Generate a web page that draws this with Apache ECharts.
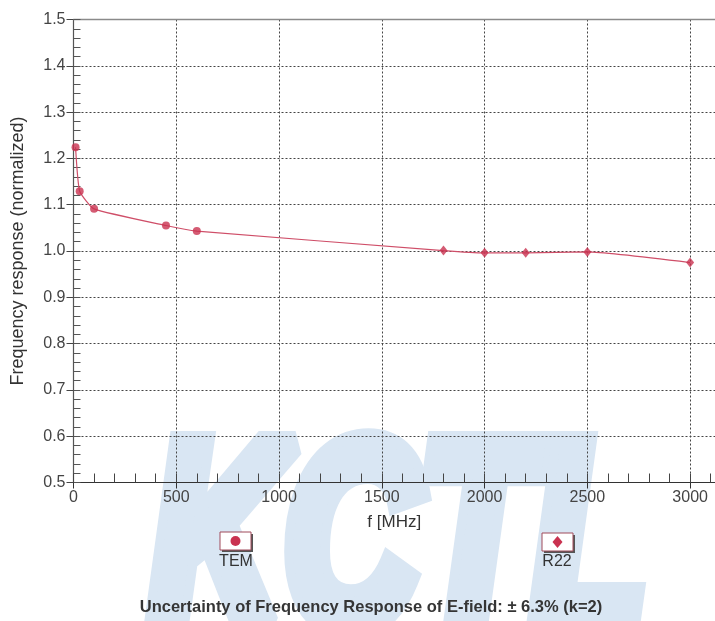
<!DOCTYPE html>
<html>
<head>
<meta charset="utf-8">
<script src="https://cdn.jsdelivr.net/npm/echarts@6/dist/echarts.min.js"></script>
<style>
html,body{margin:0;padding:0;background:#fff;}
#c{width:715px;height:621px;}
</style>
</head>
<body>
<div id="c"></div>
<script>
// Data
const freqTEM = [10, 30, 100, 450, 600];
const respTEM = [1.224, 1.129, 1.091, 1.055, 1.043];
const freqR22 = [1800, 2000, 2200, 2500, 3000];
const respR22 = [1.001, 0.996, 0.996, 0.998, 0.975];
const xTickLabels = ['0', '500', '1000', '1500', '2000', '2500', '3000'];
const yTickLabels = ['0.5', '0.6', '0.7', '0.8', '0.9', '1.0', '1.1', '1.2', '1.3', '1.4', '1.5'];
const legendNames = ['TEM', 'R22'];
const titleText = 'Uncertainty of Frequency Response of E-field: \u00b1 6.3% (k=2)';
const watermark = 'KCTL';

const pairs = (xs, ys) => xs.map((x, i) => [x, ys[i]]);
const allPts = pairs(freqTEM, respTEM).concat(pairs(freqR22, respR22));

const FONT = '"Liberation Sans", Arial, sans-serif';
const RED = '#c93250';
const LINE = '#cf4e68';
const WM = '#d9e6f3';

const chart = echarts.init(document.getElementById('c'), null, {renderer: 'canvas'});

const xMax = 3121;

const option = {
  animation: false,
  backgroundColor: '#fff',
  grid: {left: 73.5, top: 19.5, right: 0, bottom: 138.5, show: false},
  graphic: [
    {
      type: 'text', z: -10, silent: true,
      x: 150, y: 552, scaleX: 0.71,
      style: {text: watermark, fontFamily: 'Liberation Sans', fontWeight: 'bold', fontStyle: 'italic', fontSize: 262,
              fill: WM, stroke: WM, lineWidth: 26, lineJoin: 'round', verticalAlign: 'middle', align: 'left'}
    },
    // legend: TEM
    {type: 'rect', z: 5, shape: {x: 222, y: 534, width: 31, height: 18}, style: {fill: '#555', stroke: null}},
    {type: 'rect', z: 6, shape: {x: 220, y: 532, width: 31, height: 18}, style: {fill: '#fff', stroke: '#a04a5a', lineWidth: 1}},
    {type: 'circle', z: 7, shape: {cx: 235.5, cy: 541, r: 5}, style: {fill: RED}},
    {type: 'text', z: 7, x: 236, y: 562, style: {text: legendNames[0], fontFamily: 'Liberation Sans', fontSize: 16, fill: '#333', align: 'center', verticalAlign: 'middle'}},
    // legend: R22
    {type: 'rect', z: 5, shape: {x: 544, y: 535, width: 31, height: 18}, style: {fill: '#555', stroke: null}},
    {type: 'rect', z: 6, shape: {x: 542, y: 533, width: 31, height: 18}, style: {fill: '#fff', stroke: '#a04a5a', lineWidth: 1}},
    {type: 'polygon', z: 7, shape: {points: [[557.5, 536], [562.5, 542], [557.5, 548], [552.5, 542]]}, style: {fill: RED}},
    {type: 'text', z: 7, x: 557, y: 562, style: {text: legendNames[1], fontFamily: 'Liberation Sans', fontSize: 16, fill: '#333', align: 'center', verticalAlign: 'middle'}},
    // caption
    {type: 'text', z: 7, x: 371, y: 607, style: {text: titleText, fontFamily: 'Liberation Sans', fontWeight: 'bold', fontSize: 16.5, fill: '#353535', align: 'center', verticalAlign: 'middle'}}
  ],
  xAxis: [
    {
      type: 'value', min: 0, max: xMax, interval: 500,
      name: 'f [MHz]', nameLocation: 'middle', nameGap: 31,
      nameTextStyle: {fontFamily: FONT, fontSize: 17, color: '#333'},
      axisLine: {show: true, onZero: false, lineStyle: {color: '#333', width: 1.2}},
      axisTick: {show: true, inside: false, length: 6, lineStyle: {color: '#333'}},
      axisLabel: {
        fontFamily: FONT, fontSize: 16, color: '#444', margin: 7,
        showMaxLabel: false,
        formatter: v => (v % 500 === 0 ? xTickLabels[v / 500] : '')
      },
      splitLine: {show: true, showMaxLine: false, lineStyle: {color: '#444', width: 1, type: [2, 2]}}
    },
    {
      type: 'value', min: 0, max: xMax, interval: 100, position: 'bottom',
      axisLine: {show: false, onZero: false},
      axisTick: {show: true, inside: true, length: 9, lineStyle: {color: '#444'}},
      axisLabel: {show: false},
      splitLine: {show: false}
    },
    {
      type: 'value', min: 0, max: xMax, position: 'top',
      axisLine: {show: true, onZero: false, lineStyle: {color: '#8a8a8a', width: 1.4}},
      axisTick: {show: false}, axisLabel: {show: false}, splitLine: {show: false}
    }
  ],
  yAxis: [
    {
      type: 'value', min: 0.5, max: 1.5, interval: 0.1,
      name: 'Frequency response (normalized)', nameLocation: 'middle', nameGap: 46,
      nameTextStyle: {fontFamily: FONT, fontSize: 18, color: '#333'},
      axisLine: {show: true, onZero: false, lineStyle: {color: '#555', width: 1.2}},
      axisTick: {show: true, inside: false, length: 7, lineStyle: {color: '#444'}},
      axisLabel: {
        fontFamily: FONT, fontSize: 16, color: '#444', margin: 8,
        formatter: v => yTickLabels[Math.round((v - 0.5) * 10)]
      },
      splitLine: {show: true, lineStyle: {color: '#444', width: 1, type: [2, 2]}}
    },
    {
      type: 'value', min: 0.5, max: 1.5, interval: 0.02, position: 'left',
      axisLine: {show: false, onZero: false},
      axisTick: {show: true, inside: true, length: 7, lineStyle: {color: '#555'}},
      axisLabel: {show: false},
      splitLine: {show: false}
    }
  ],
  series: [
    {
      name: 'curve', type: 'line', data: allPts, showSymbol: false,
      smooth: 0.15,
      lineStyle: {color: LINE, width: 1.2}, z: 3, silent: true
    },
    {
      name: legendNames[0], type: 'scatter', data: pairs(freqTEM, respTEM),
      symbol: 'circle', symbolSize: 8, itemStyle: {color: RED}, z: 4
    },
    {
      name: legendNames[1], type: 'scatter', data: pairs(freqR22, respR22),
      symbol: 'diamond', symbolSize: [8, 10], itemStyle: {color: RED}, z: 4
    }
  ]
};
chart.setOption(option);
</script>
</body>
</html>
